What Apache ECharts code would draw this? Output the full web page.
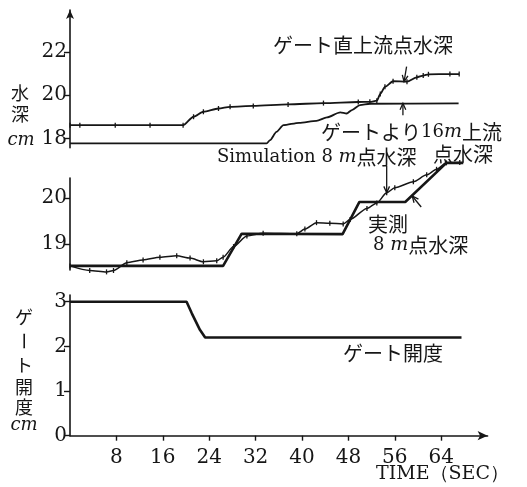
<!DOCTYPE html>
<html>
<head>
<meta charset="utf-8">
<script src="https://cdn.jsdelivr.net/npm/echarts@6/dist/echarts.min.js"></script>
<style>
  html, body { margin: 0; padding: 0; background: #fff; }
  #chart { width: 527px; height: 487px; }
</style>
</head>
<body>
<div id="chart"></div>
<script>
// Time axis (seconds) shared by all three panels
const TIME_TICKS = [8, 16, 24, 32, 40, 48, 56, 64];

// Upper panel: depth just upstream of the gate (cm)
const directTime  = [0, 1.7, 7.8, 13.8, 19.5, 21.3, 23.0, 25.6, 27.6, 31.6, 37.6, 43.7, 49.7, 51.7, 52.9, 53.5, 54.3, 55.7, 58.1, 59.8, 60.9, 61.8, 65.5, 67.1];
const directDepth = [18.61, 18.61, 18.61, 18.61, 18.61, 19.00, 19.23, 19.38, 19.46, 19.50, 19.57, 19.63, 19.68, 19.69, 19.74, 20.05, 20.38, 20.64, 20.62, 20.82, 20.90, 20.96, 20.97, 20.97];

// Upper panel: depth 16 m upstream of the gate (cm)
const up16Time  = [0, 33.9, 34.5, 35.6, 36.8, 39.5, 42.5, 44.3, 46.6, 47.7, 48.6, 50.0, 51.7, 67.0];
const up16Depth = [17.77, 17.77, 17.92, 18.30, 18.61, 18.72, 18.81, 18.97, 19.20, 19.15, 19.31, 19.54, 19.60, 19.62];

// Middle panel: simulated depth at the 8 m point (cm)
const simTime  = [0, 3.4, 6.3, 7.5, 9.8, 12.6, 15.5, 18.4, 20.7, 23.0, 25.3, 26.4, 28.2, 30.5, 33.3, 39.1, 40.5, 42.5, 44.8, 47.1, 48.3, 51.2, 52.9, 54.6, 56.0, 59.2, 61.5, 63.2, 64.9, 67.2];
const simDepth = [18.53, 18.43, 18.40, 18.43, 18.60, 18.66, 18.72, 18.75, 18.70, 18.62, 18.64, 18.72, 18.95, 19.18, 19.24, 19.23, 19.33, 19.47, 19.46, 19.44, 19.54, 19.78, 19.90, 20.12, 20.23, 20.36, 20.51, 20.63, 20.77, 20.78];

// Middle panel: measured depth at the 8 m point (cm)
const obsTime  = [0, 26.4, 29.6, 47.0, 49.9, 57.8, 64.9, 67.8];
const obsDepth = [18.53, 18.53, 19.23, 19.22, 19.92, 19.92, 20.77, 20.77];

// Lower panel: gate opening (cm)
const gateTime    = [0, 20.1, 21.0, 22.4, 23.3, 67.5];
const gateOpening = [3, 3, 2.74, 2.37, 2.2, 2.2];

const zip = (xs, ys) => xs.map((x, i) => [x, ys[i]]);

const INK = '#161616';
const NUM_FONT = '"DejaVu Serif", "Liberation Serif", serif';
const JP_FONT = '"Noto Sans CJK JP", "Noto Sans CJK SC", sans-serif';

const GRID_LEFT = 70;
const GRID_WIDTH = 417.6;

function valueAxis(gridIndex, min, max, marks, arrow) {
  return {
    type: 'value', gridIndex, min, max,
    splitLine: { show: false },
    axisLine: {
      show: true,
      lineStyle: { color: INK, width: 1.6 },
      symbol: arrow ? ['none', 'arrow'] : ['none', 'none'],
      symbolSize: [6, 9]
    },
    axisTick: { show: true, length: 6, inside: false, customValues: marks, lineStyle: { color: INK, width: 1.4 } },
    axisLabel: { show: true, margin: 3, customValues: marks, color: INK, fontFamily: NUM_FONT, fontSize: 20 }
  };
}

function timeAxis(gridIndex, visible) {
  return {
    type: 'value', gridIndex, min: 0, max: 72, interval: 8,
    show: visible,
    splitLine: { show: false },
    axisLine: {
      show: visible, onZero: false,
      lineStyle: { color: INK, width: 1.6 },
      symbol: ['none', 'arrow'], symbolSize: [7, 10]
    },
    axisTick: { show: visible, length: 5, customValues: TIME_TICKS, lineStyle: { color: INK, width: 1.4 } },
    axisLabel: { show: visible, margin: 12, customValues: TIME_TICKS, color: INK, fontFamily: NUM_FONT, fontSize: 20 }
  };
}

const tickMarks = { symbol: 'rect', symbolSize: [1.3, 5], showSymbol: true, itemStyle: { color: INK } };

const chart = echarts.init(document.getElementById('chart'), null, { renderer: 'canvas' });

const option = {
  backgroundColor: '#fff',
  animation: false,
  grid: [
    { left: GRID_LEFT, top: 10,  width: GRID_WIDTH, height: 137.7 },
    { left: GRID_LEFT, top: 178, width: GRID_WIDTH, height: 92 },
    { left: GRID_LEFT, top: 295, width: GRID_WIDTH, height: 140.7 }
  ],
  xAxis: [timeAxis(0, false), timeAxis(1, false), timeAxis(2, true)],
  yAxis: [
    valueAxis(0, 17.57, 23.93, [18, 20, 22], true),
    valueAxis(1, 18.441, 20.441, [19, 20], false),
    Object.assign(valueAxis(2, 0, 3.15, [0, 1, 2, 3], false), { interval: 1 })
  ],
  series: [
    Object.assign({
      name: 'ゲート直上流点水深', type: 'line', xAxisIndex: 0, yAxisIndex: 0,
      data: zip(directTime, directDepth), smooth: 0.25, smoothMonotone: 'x',
      lineStyle: { color: INK, width: 1.8 }, clip: false
    }, tickMarks),
    {
      name: 'ゲートより16m上流点水深', type: 'line', xAxisIndex: 0, yAxisIndex: 0,
      data: zip(up16Time, up16Depth), smooth: 0.25, smoothMonotone: 'x', showSymbol: false,
      lineStyle: { color: INK, width: 1.8 }, clip: false
    },
    Object.assign({
      name: 'Simulation 8m点水深', type: 'line', xAxisIndex: 1, yAxisIndex: 1,
      data: zip(simTime, simDepth), smooth: 0.25, smoothMonotone: 'x',
      lineStyle: { color: INK, width: 1.5 }, clip: false
    }, tickMarks),
    {
      name: '実測 8m点水深', type: 'line', xAxisIndex: 1, yAxisIndex: 1,
      data: zip(obsTime, obsDepth), showSymbol: false,
      lineStyle: { color: INK, width: 2.6 }, clip: false
    },
    {
      name: 'ゲート開度', type: 'line', xAxisIndex: 2, yAxisIndex: 2,
      data: zip(gateTime, gateOpening), showSymbol: false,
      lineStyle: { color: INK, width: 2.6 }, clip: false
    }
  ]
};

chart.setOption(option);

// Annotation text and pointer arrows
function txt(x, y, text, font, extra) {
  return Object.assign({
    type: 'text', x, y, silent: true,
    style: Object.assign({ text, font, fill: INK, textAlign: 'left', textVerticalAlign: 'middle' }, extra || {})
  });
}

const jp = (size) => size + 'px ' + JP_FONT;
const serif = (size) => size + 'px ' + NUM_FONT;
const serifItalic = (size) => 'italic ' + size + 'px ' + NUM_FONT;

const richMixed = {
  s: { font: serif(18), fill: INK },
  i: { font: serifItalic(19), fill: INK },
  j: { font: jp(20), fill: INK }
};

function arrowTo(gridIndex, point, dx, dy) {
  const tip = chart.convertToPixel({ gridIndex }, point);
  const x2 = tip[0], y2 = tip[1];
  const x1 = x2 + dx, y1 = y2 + dy;
  const a = Math.atan2(y2 - y1, x2 - x1), L = 7, w = 0.42;
  const style = { stroke: INK, lineWidth: 1.3, fill: null };
  return [
    { type: 'line', silent: true, shape: { x1, y1, x2, y2 }, style },
    { type: 'polyline', silent: true, shape: { points: [
      [x2 - L * Math.cos(a - w), y2 - L * Math.sin(a - w)], [x2, y2],
      [x2 - L * Math.cos(a + w), y2 - L * Math.sin(a + w)]
    ] }, style }
  ];
}

const graphics = [
  // upper panel labels
  txt(273, 45, 'ゲート直上流点水深', jp(20)),
  txt(321, 132, '{j|ゲートより}{s|16}{i|m}{j|上流}', null, { rich: richMixed }),
  txt(433, 154, '点水深', jp(20)),
  txt(217, 157, '{s|Simulation 8 }{i|m}{j|点水深}', null, { rich: richMixed }),
  // middle panel labels
  txt(368, 224, '実測', jp(20)),
  txt(373, 245, '{s|8 }{i|m}{j|点水深}', null, { rich: richMixed }),
  // lower panel label
  txt(343, 353, 'ゲート開度', jp(20)),
  // vertical axis titles
  txt(20, 93, '水', jp(18), { textAlign: 'center' }),
  txt(20, 114, '深', jp(18), { textAlign: 'center' }),
  txt(21, 140, 'cm', serifItalic(18), { textAlign: 'center' }),
  txt(24, 317, 'ゲ', jp(18), { textAlign: 'center' }),
  Object.assign(txt(24, 341, 'ー', jp(18), { textAlign: 'center' }), { rotation: -Math.PI / 2 }),
  txt(24, 365, 'ト', jp(18), { textAlign: 'center' }),
  txt(24, 387, '開', jp(18), { textAlign: 'center' }),
  txt(24, 407, '度', jp(18), { textAlign: 'center' }),
  txt(24, 425, 'cm', serifItalic(18), { textAlign: 'center' }),
  // time axis title
  txt(509, 474, 'TIME（SEC）', serif(19), { textAlign: 'right' })
]
  .concat(arrowTo(0, [57.6, 20.62], 2.5, -15))
  .concat(arrowTo(0, [57.4, 19.62], 0, 12))
  .concat(arrowTo(1, [54.6, 20.12], 0, -27))
  .concat(arrowTo(1, [59.0, 20.05], 9, 11));

chart.setOption({ graphic: { elements: graphics } });
</script>
</body>
</html>
